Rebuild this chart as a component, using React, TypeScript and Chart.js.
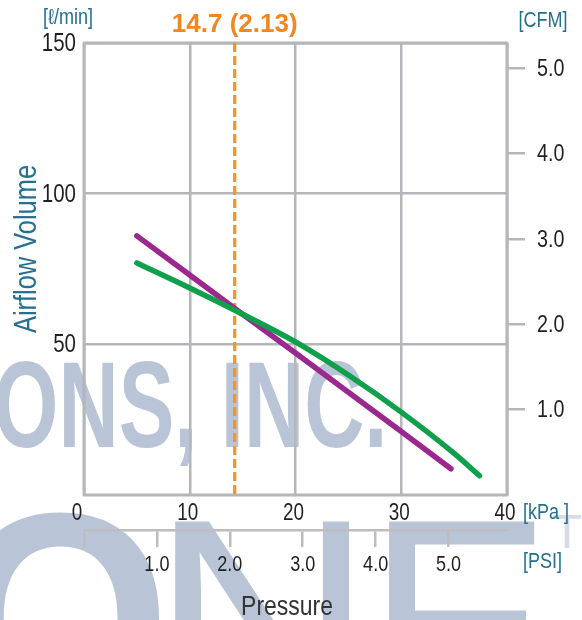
import React, { useEffect, useRef } from "react";
import { Chart, registerables } from "chart.js";

Chart.register(...registerables);

// ---- data ----
const kpaTicks = [0, 10, 20, 30, 40];
const lpmTicks = [50, 100, 150];
const cfmTicks = [1, 2, 3, 4, 5];
const psiTicks = [0, 1, 2, 3, 4, 5];

const greenPressure = [5, 10, 15, 20, 25, 30, 35, 37.4];
const greenFlow = [77, 68.7, 60, 50.8, 39.8, 27.5, 13.8, 6.4];

const purplePressure = [5, 10, 15, 20, 25, 30, 34.7];
const purpleFlow = [86, 73, 60, 47.1, 34.1, 21.1, 8.7];

const markerKpa = 14.25;
const markerLabel = "14.7 (2.13)";

const LPM_PER_CFM = 28.3168;
const KPA_PER_PSI = 6.89476;

// ---- styles ----
const SANS = '"Liberation Sans", Arial, sans-serif';
const NARROW_X = 0.82;
const GRID = "#b4b6b9";
const TEAL = "#24708f";
const DARK = "#231f20";
const WM = "#b9c5d6";

function fitText(ctx: CanvasRenderingContext2D, text: string, left: number, right: number, top: number, font: string) {
  ctx.save();
  ctx.font = font;
  ctx.textAlign = "left";
  ctx.textBaseline = "alphabetic";
  const m = ctx.measureText(text);
  const w = m.actualBoundingBoxLeft + m.actualBoundingBoxRight;
  const sx = (right - left) / w;
  ctx.translate(left, top + m.actualBoundingBoxAscent);
  ctx.scale(sx, 1);
  ctx.fillText(text, m.actualBoundingBoxLeft, 0);
  ctx.restore();
}

function narrow(
  ctx: CanvasRenderingContext2D,
  text: string,
  x: number,
  y: number,
  size: number,
  align: CanvasTextAlign,
  color: string,
  rotate = 0
) {
  ctx.save();
  ctx.translate(x, y);
  if (rotate) ctx.rotate(rotate);
  ctx.scale(NARROW_X, 1);
  ctx.font = `${size}px ${SANS}`;
  ctx.fillStyle = color;
  ctx.textAlign = align;
  ctx.textBaseline = "middle";
  ctx.fillText(text, 0, 0);
  ctx.restore();
}

const decor = {
  id: "decor",
  beforeDraw(chart: any) {
    const ctx: CanvasRenderingContext2D = chart.ctx;
    ctx.save();
    ctx.fillStyle = WM;
    fitText(ctx, "ONS, INC.", -3, 382, 361, `bold 123px ${SANS}`);
    fitText(ctx, "O", -40, 163, 511, `bold 300px ${SANS}`);
    fitText(ctx, "N", 174, 349, 517, `300px ${SANS}`);
    fitText(ctx, "E", 388, 540, 517, `300px ${SANS}`);
    ctx.fillStyle = "#d5dce6";
    fitText(ctx, "TM", 553, 620, 515, `48px ${SANS}`);
    ctx.restore();
  },
  beforeDatasetsDraw(chart: any) {
    const ctx: CanvasRenderingContext2D = chart.ctx;
    const a = chart.chartArea;
    ctx.save();
    ctx.strokeStyle = GRID;
    ctx.lineWidth = 3;
    ctx.lineJoin = "round";
    ctx.strokeRect(a.left, a.top, a.right - a.left, a.bottom - a.top);
    ctx.restore();
  },
  afterDraw(chart: any) {
    const ctx: CanvasRenderingContext2D = chart.ctx;
    const xs = chart.scales.x;
    const ps = chart.scales.psi;
    const ys = chart.scales.y;
    const cs = chart.scales.cfm;

    // tick labels
    lpmTicks.forEach((v) => narrow(ctx, String(v), ys.right - 8, ys.getPixelForValue(v) + 1, 25, "right", DARK));
    cfmTicks.forEach((v) => narrow(ctx, v.toFixed(1), cs.left + 30, cs.getPixelForValue(v) + 1, 24, "left", DARK));
    kpaTicks.forEach((v) =>
      narrow(ctx, String(v), xs.getPixelForValue(v) - (v === 0 ? 7 : 2), xs.top + 19, 23, "center", DARK)
    );
    psiTicks
      .filter((v) => v > 0)
      .forEach((v) => narrow(ctx, v.toFixed(1), ps.getPixelForValue(v), ps.top + 35, 22, "center", DARK));

    // units and titles
    narrow(ctx, "[ℓ/min]", 68, 18, 22, "center", TEAL);
    narrow(ctx, "[CFM]", 543, 21, 22, "center", TEAL);
    narrow(ctx, "[kPa ]", 523, 513, 22, "left", TEAL);
    narrow(ctx, "[PSI]", 523, 562, 22, "left", TEAL);
    narrow(ctx, "Airflow Volume", 27, 249, 31, "center", TEAL, -Math.PI / 2);
    narrow(ctx, "Pressure", 287, 607, 28, "center", "#333");

    ctx.save();
    ctx.fillStyle = "#f4861f";
    ctx.font = `bold 26px ${SANS}`;
    ctx.textAlign = "center";
    ctx.textBaseline = "middle";
    ctx.fillText(markerLabel, xs.getPixelForValue(markerKpa), 25);
    ctx.restore();
  },
};

export default function App() {
  const ref = useRef<HTMLCanvasElement>(null);
  useEffect(() => {
    if (!ref.current) return;
    const chart = new Chart(ref.current, {
      type: "line",
      data: {
        datasets: [
          {
            label: "green",
            data: greenPressure.map((x, i) => ({ x, y: greenFlow[i] })),
            borderColor: "#10a04b",
            borderWidth: 5.5,
            pointRadius: 0,
            cubicInterpolationMode: "monotone",
            borderCapStyle: "round",
            borderJoinStyle: "round",
            xAxisID: "x",
            yAxisID: "y",
          },
          {
            label: "purple",
            data: purplePressure.map((x, i) => ({ x, y: purpleFlow[i] })),
            borderColor: "#9a288e",
            borderWidth: 5.5,
            pointRadius: 0,
            tension: 0,
            borderCapStyle: "round",
            borderJoinStyle: "round",
            xAxisID: "x",
            yAxisID: "y",
          },
          {
            label: "marker",
            data: [
              { x: markerKpa, y: 150 },
              { x: markerKpa, y: 0 },
            ],
            borderColor: "#f7931e",
            borderWidth: 3.2,
            borderDash: [9, 4],
            pointRadius: 0,
            xAxisID: "x",
            yAxisID: "y",
          },
        ],
      } as any,
      options: {
        animation: false,
        responsive: true,
        maintainAspectRatio: false,
        events: [],
        layout: { padding: { top: 43, left: 0, right: 0, bottom: 0 } },
        plugins: { legend: { display: false }, tooltip: { enabled: false } },
        scales: {
          x: {
            type: "linear",
            position: "bottom",
            min: 0,
            max: 40,
            weight: 0,
            afterBuildTicks: (s: any) => {
              s.ticks = kpaTicks.map((v) => ({ value: v }));
            },
            afterFit: (s: any) => {
              s.height = 35;
            },
            grid: { color: GRID, lineWidth: 2.5, drawTicks: false },
            border: { display: false },
            ticks: { display: false },
          },
          psi: {
            type: "linear",
            position: "bottom",
            min: 0,
            max: 40 / KPA_PER_PSI,
            weight: 1,
            afterBuildTicks: (s: any) => {
              s.ticks = psiTicks.map((v) => ({ value: v }));
            },
            afterFit: (s: any) => {
              s.height = 90;
            },
            grid: { drawOnChartArea: false, drawTicks: true, tickLength: 17, color: "#bdbdbd", lineWidth: 2.5 },
            border: { display: true, color: "#bdbdbd", width: 2.5 },
            ticks: { display: false },
          },
          y: {
            type: "linear",
            position: "left",
            min: 0,
            max: 150,
            afterBuildTicks: (s: any) => {
              s.ticks = lpmTicks.map((v) => ({ value: v }));
            },
            afterFit: (s: any) => {
              s.width = 84;
            },
            grid: { color: GRID, lineWidth: 2.5, drawTicks: false },
            border: { display: false },
            ticks: { display: false },
          },
          cfm: {
            type: "linear",
            position: "right",
            min: 0,
            max: 150 / LPM_PER_CFM,
            afterBuildTicks: (s: any) => {
              s.ticks = cfmTicks.map((v) => ({ value: v }));
            },
            afterFit: (s: any) => {
              s.width = 75;
            },
            grid: { drawOnChartArea: false, drawTicks: true, tickLength: 18, color: GRID, lineWidth: 2.5 },
            border: { display: false },
            ticks: { display: false },
          },
        },
      } as any,
      plugins: [decor],
    });
    return () => chart.destroy();
  }, []);

  return (
    <div style={{ position: "fixed", left: 0, top: 0, width: 582, height: 620 }}>
      <canvas ref={ref} />
    </div>
  );
}
